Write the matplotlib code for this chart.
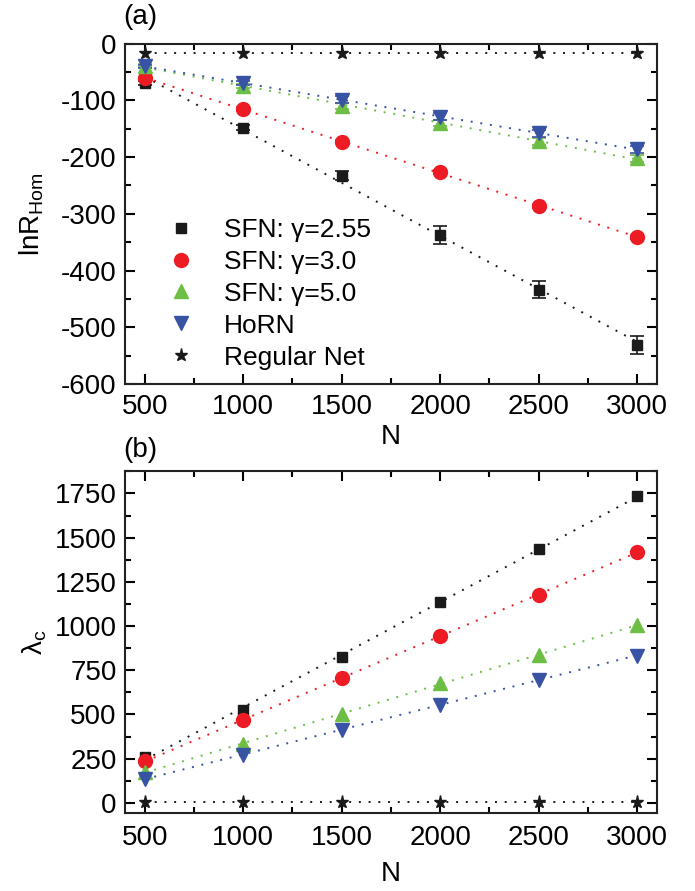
import numpy as np
import matplotlib
matplotlib.use("Agg")
import matplotlib.pyplot as plt
from matplotlib.ticker import MultipleLocator

plt.rcParams['font.family'] = ['Liberation Sans', 'DejaVu Sans']
plt.rcParams['mathtext.fontset'] = 'custom'
plt.rcParams['mathtext.rm'] = 'Liberation Sans'
plt.rcParams['mathtext.it'] = 'Liberation Sans'
plt.rcParams['axes.unicode_minus'] = False

N = [500, 1000, 1500, 2000, 2500, 3000]
labels = ["SFN: γ=2.55", "SFN: γ=3.0", "SFN: γ=5.0", "HoRN", "Regular Net"]

# panel (a): ln R_Hom
lnR_sfn255 = [-69, -148, -233, -337, -434, -531]
lnR_sfn30 = [-61, -115, -173, -226, -286, -341]
lnR_sfn50 = [-39, -75, -110, -140, -172, -202]
lnR_horn = [-40, -69, -99, -129, -158, -186]
lnR_reg = [-17, -17, -17, -17, -17, -17]
err_sfn255 = [3, 4, 8, 16, 15, 16]
err_sfn30 = [3, 3, 3, 3, 3, 3]
err_sfn50 = [3, 4, 6, 6, 6, 6]
err_horn = [3, 4, 6, 6, 6, 6]

# panel (b): lambda_c
lam_sfn255 = [260, 528, 826, 1135, 1433, 1738]
lam_sfn30 = [235, 471, 705, 942, 1178, 1418]
lam_sfn50 = [175, 332, 502, 677, 837, 1005]
lam_horn = [136, 273, 411, 556, 697, 833]
lam_reg = [5, 5, 5, 5, 5, 5]

colors = ['#1a1a1a', '#ED1C24', '#6DBE45', '#3953A4', '#1a1a1a']
markers = ['s', 'o', '^', 'v', '*']
msizes = [7.5, 10, 10, 10, 9.5]

fig = plt.figure(figsize=(6.95, 8.91), dpi=100)
axa = fig.add_axes([0.18, 0.569, 0.765, 0.382])
axb = fig.add_axes([0.18, 0.088, 0.765, 0.383])

x = np.array(N, dtype=float)
xf = np.linspace(500, 3000, 50)

def fitline(ax, y, c):
    p = np.polyfit(x, y, 1)
    ax.plot(xf, np.polyval(p, xf), ls=(0, (1, 4)), color=c, lw=1.4, zorder=1)

seriesA = [lnR_sfn255, lnR_sfn30, lnR_sfn50, lnR_horn, lnR_reg]
errsA = [err_sfn255, err_sfn30, err_sfn50, err_horn, None]
for y, c in zip(seriesA, colors):
    fitline(axa, y, c)
for y, e, c, m, ms, lab in zip(seriesA, errsA, colors, markers, msizes, labels):
    if e is not None:
        axa.errorbar(x, y, yerr=e, fmt='none', ecolor=c, elinewidth=1.2, capsize=5, capthick=1.2, zorder=2)
    axa.plot(x, y, ls='none', marker=m, ms=ms, color=c, mec=c, label=lab, zorder=3)

seriesB = [lam_sfn255, lam_sfn30, lam_sfn50, lam_horn, lam_reg]
for y, c in zip(seriesB, colors):
    fitline(axb, y, c)
for y, c, m, ms in zip(seriesB, colors, markers, msizes):
    axb.plot(x, y, ls='none', marker=m, ms=ms, color=c, mec=c, zorder=3)

for ax in (axa, axb):
    ax.set_xlim(400, 3100)
    ax.xaxis.set_major_locator(MultipleLocator(500))
    ax.xaxis.set_minor_locator(MultipleLocator(250))
    ax.tick_params(which='both', direction='in', top=True, right=True, labelsize=20, width=1.5)
    ax.tick_params(which='major', length=7)
    ax.tick_params(which='minor', length=4)
    ax.tick_params(axis='y', pad=6)
    for s in ax.spines.values():
        s.set_linewidth(1.5)
        s.set_color('#222222')

axa.tick_params(axis='x', pad=7)
axb.tick_params(axis='x', pad=9)
axa.set_xlabel('N', fontsize=20, labelpad=3)
axb.set_xlabel('N', fontsize=20, labelpad=7)

axa.set_ylim(-600, 0)
axa.yaxis.set_major_locator(MultipleLocator(100))
axa.yaxis.set_minor_locator(MultipleLocator(50))
axa.set_ylabel(r'lnR$_{\mathrm{Hom}}$', fontsize=20, labelpad=11)

axb.set_ylim(-55, 1875)
axb.yaxis.set_major_locator(MultipleLocator(250))
axb.yaxis.set_minor_locator(MultipleLocator(125))
axb.set_ylabel(r'λ$_{\mathrm{c}}$', fontsize=20, labelpad=4)

leg = axa.legend(loc='lower left', bbox_to_anchor=(0.04, 0.0), frameon=False, fontsize=19,
                 handletextpad=0.9, labelspacing=0.3, handlelength=1.5, borderaxespad=0.15)

fig.text(0.178, 0.981, '(a)', fontsize=20, ha='left', va='center')
fig.text(0.178, 0.495, '(b)', fontsize=20, ha='left', va='center')

fig.savefig('out.png', dpi=100)
